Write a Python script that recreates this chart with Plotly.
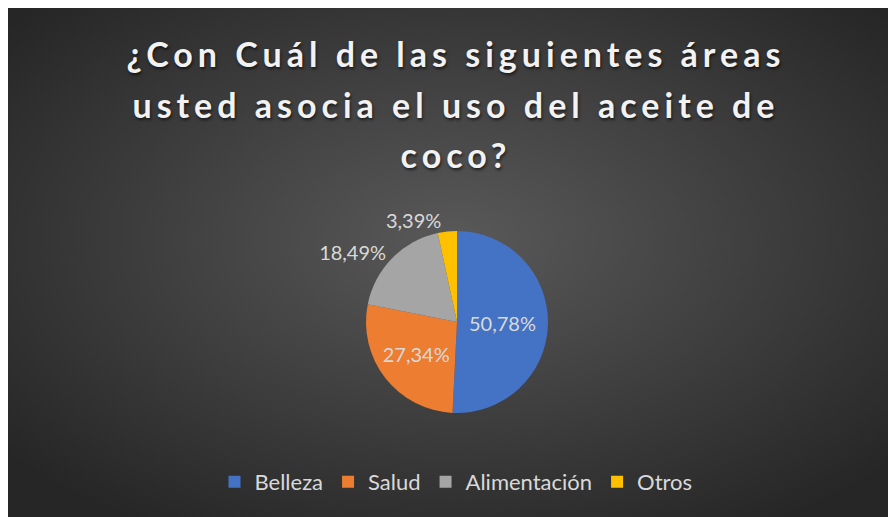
import plotly.graph_objects as go

categories = ["Belleza", "Salud", "Alimentación", "Otros"]
values = [50.78, 27.34, 18.49, 3.39]
colors = ["#4472C4", "#ED7D31", "#A5A5A5", "#FFC000"]
title_lines = ["¿Con Cuál de las siguientes áreas", "usted asocia el uso del aceite de", "coco?"]

W, H = 896, 517
# the page body adds an 8px offset; positions below are in figure pixels
CX, CY, R = 449, 314, 91

bg_svg = (
    "data:image/svg+xml;utf8,"
    "<svg xmlns='http://www.w3.org/2000/svg' width='896' height='517' preserveAspectRatio='none'>"
    "<defs><radialGradient id='g' cx='50%' cy='45%' r='65%'>"
    "<stop offset='0%' stop-color='%23595959'/>"
    "<stop offset='100%' stop-color='%23262626'/>"
    "</radialGradient></defs>"
    "<rect width='896' height='517' fill='url(%23g)'/></svg>"
)

fig = go.Figure(go.Pie(
    labels=categories,
    values=values,
    marker=dict(colors=colors, line=dict(width=0)),
    sort=False,
    direction="clockwise",
    rotation=0,
    texttemplate="%{percent:.2%}",
    textposition=["inside", "inside", "outside", "outside"],
    insidetextfont=dict(family="Lato", size=20, color="#D9D9D9"),
    outsidetextfont=dict(family="Lato", size=20, color="#D9D9D9"),
    insidetextorientation="horizontal",
    domain=dict(x=[(CX - R) / W, (CX + R) / W], y=[1 - (CY + R) / H, 1 - (CY - R) / H]),
    hoverinfo="label+percent",
))

span = "<span style='font-size:34px;letter-spacing:5px'>{}</span>"
fig.update_layout(
    width=W, height=H,
    separators=",.",
    paper_bgcolor="#303030",
    plot_bgcolor="rgba(0,0,0,0)",
    margin=dict(l=0, r=0, t=0, b=0),
    title=dict(
        text="<br>".join(span.format(t) for t in title_lines),
        font=dict(family="Lato", size=39, color="#F2F2F2", weight="bold",
                  shadow="1px 2px 3px rgba(0,0,0,0.6)"),
        x=0.5, xanchor="center", y=1 - 59 / H, yanchor="top",
    ),
    legend=dict(
        orientation="h", x=0.5, xanchor="center", y=1 - 474 / H, yanchor="middle",
        font=dict(family="Lato", size=22, color="#D9D9D9"),
        bgcolor="rgba(0,0,0,0)", itemwidth=30, traceorder="normal",
    ),
    images=[dict(
        source=bg_svg, xref="paper", yref="paper",
        x=0, y=1, sizex=1, sizey=1,
        xanchor="left", yanchor="top", sizing="stretch", layer="below",
    )],
)

fig.write_html("out.html")
